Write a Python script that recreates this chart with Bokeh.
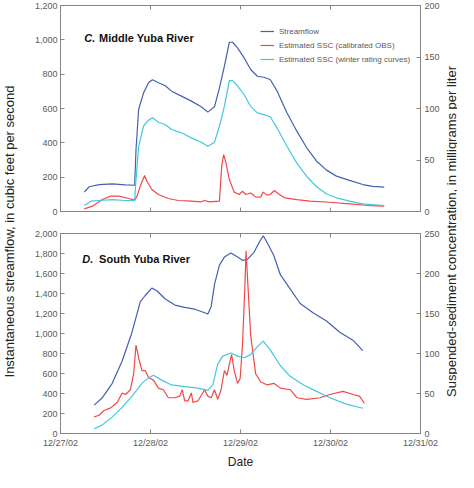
import math
from bokeh.plotting import figure
from bokeh.models import (Range1d, LinearAxis, FixedTicker, NumeralTickFormatter,
                          Label, Legend, LegendItem)
from bokeh.layouts import row, column
from bokeh.embed import file_html
from bokeh.resources import INLINE

# ---------------- data (time in days after 12/27/02 00:00) ----------------
DATE_TICKS = [0, 1, 2, 3, 4]
DATE_LABELS = ["12/27/02", "12/28/02", "12/29/02", "12/30/02", "12/31/02"]

# C. Middle Yuba River
MY_Q_T = [0.264, 0.319, 0.43, 0.575, 0.722, 0.824, 0.839, 0.868, 0.923, 0.978, 1.022,
          1.088, 1.161, 1.234, 1.344, 1.454, 1.564, 1.637, 1.711, 1.766, 1.821, 1.876,
          1.912, 1.967, 2.04, 2.113, 2.187, 2.26, 2.33, 2.407, 2.516, 2.626, 2.736,
          2.846, 2.956, 3.066, 3.212, 3.359, 3.469, 3.597]
MY_Q = [113, 144, 157, 161, 155, 153, 361, 594, 691, 750, 767, 750, 734, 701, 672, 643,
        610, 579, 610, 720, 847, 986, 986, 953, 895, 827, 788, 782, 769, 701, 575, 468,
        371, 293, 241, 206, 181, 157, 146, 142]
MY_RC_T = [0.264, 0.337, 0.43, 0.575, 0.722, 0.824, 0.839, 0.868, 0.923, 0.978, 1.022,
           1.088, 1.161, 1.234, 1.344, 1.454, 1.564, 1.637, 1.711, 1.766, 1.821, 1.876,
           1.912, 1.967, 2.04, 2.113, 2.187, 2.26, 2.33, 2.407, 2.516, 2.626, 2.736,
           2.846, 2.956, 3.066, 3.212, 3.359, 3.597]
MY_RC = [5.8, 10, 10.7, 11.6, 10.7, 10.7, 31, 63, 83, 88.7, 91, 86.7, 84.5, 79.6, 76.4,
         71.5, 67.3, 63.4, 67.3, 82.8, 102, 127, 127, 122, 113.6, 102, 95.8, 94, 92, 81,
         63.4, 47, 34, 24, 17, 13.3, 10, 7.4, 5.8]
MY_OBS_T = [0.264, 0.355, 0.465, 0.557, 0.648, 0.758, 0.824, 0.85, 0.886, 0.934, 0.96,
            1.015, 1.088, 1.198, 1.308, 1.454, 1.564, 1.6, 1.656, 1.766, 1.791, 1.813,
            1.839, 1.876, 1.93, 1.985, 2.022, 2.059, 2.113, 2.168, 2.223, 2.253, 2.297,
            2.33, 2.377, 2.42, 2.49, 2.626, 2.772, 2.99, 3.212, 3.432, 3.597]
MY_OBS = [2.6, 5.2, 11.6, 14.9, 14.9, 12.6, 11, 14.9, 24.6, 35, 29.4, 21.4, 16.5, 12.6,
          10.7, 10, 9.4, 10.7, 9.4, 10, 44, 55.3, 47, 31, 18.8, 16.5, 19.7, 16.5, 18,
          14.2, 13.9, 18.8, 15.9, 16.5, 20.4, 17.2, 13.3, 11.6, 10, 9, 7.4, 5.8, 5.2]

# D. South Yuba River
SY_Q_T = [0.374, 0.465, 0.575, 0.685, 0.795, 0.886, 0.941, 1.015, 1.07, 1.161, 1.271,
          1.381, 1.491, 1.564, 1.637, 1.674, 1.711, 1.766, 1.821, 1.894, 1.967, 2.022,
          2.077, 2.15, 2.205, 2.253, 2.297, 2.37, 2.443, 2.553, 2.663, 2.81, 2.956,
          3.103, 3.249, 3.359]
SY_Q = [284, 358, 502, 725, 1013, 1316, 1380, 1454, 1428, 1348, 1284, 1262, 1243, 1220,
        1195, 1268, 1492, 1684, 1764, 1805, 1764, 1732, 1741, 1812, 1907, 1978, 1907,
        1780, 1588, 1444, 1300, 1205, 1125, 1013, 933, 828]
SY_RC_T = [0.374, 0.465, 0.575, 0.685, 0.795, 0.905, 0.978, 1.033, 1.125, 1.234, 1.381,
           1.527, 1.637, 1.692, 1.747, 1.802, 1.894, 1.967, 2.04, 2.113, 2.187, 2.253,
           2.33, 2.443, 2.553, 2.7, 2.846, 2.993, 3.176, 3.359]
SY_RC = [6, 10.8, 20.8, 32.7, 46.7, 62.7, 69.5, 72.7, 66.7, 60.7, 58.7, 56.7, 53.9,
         60.7, 86.7, 96.7, 100.6, 96.7, 94.7, 98.6, 108.6, 115.4, 104.6, 84.7, 71.5,
         60.7, 52.7, 44.7, 36.7, 31.6]
SY_OBS_T = [0.374, 0.429, 0.484, 0.557, 0.63, 0.685, 0.722, 0.777, 0.813, 0.839, 0.868,
            0.905, 0.941, 0.978, 1.033, 1.088, 1.143, 1.198, 1.271, 1.326, 1.352, 1.381,
            1.418, 1.454, 1.472, 1.527, 1.6, 1.637, 1.674, 1.711, 1.747, 1.784, 1.821,
            1.85, 1.876, 1.901, 1.93, 1.967, 1.996, 2.022, 2.048, 2.062, 2.084, 2.113,
            2.168, 2.223, 2.297, 2.37, 2.443, 2.553, 2.626, 2.736, 2.883, 2.993, 3.139,
            3.249, 3.322, 3.377]
SY_OBS = [20.8, 22.8, 28.8, 32, 38.7, 50.7, 48.7, 54.7, 74.7, 110.6, 94.7, 78.7, 78.7,
          69.9, 66.7, 56.7, 54.7, 44.7, 44.7, 46.7, 54.7, 40.7, 40.7, 50.7, 38.7, 40.7,
          54.7, 46.7, 44.7, 54.7, 42.7, 54.7, 78.7, 72.7, 86.7, 98.6, 78.7, 62.7, 68.7,
          110.6, 182, 228.5, 182, 122.6, 74.7, 64.7, 60.7, 62.7, 56.7, 54.7, 44.7, 42.7,
          44.7, 48.7, 52.7, 48.7, 46.7, 37.5]

SERIES_NAMES = ["Streamflow", "Estimated SSC (calibrated OBS)",
                "Estimated SSC (winter rating curves)"]

# ---------------- style ----------------
BLUE = "#4262b0"
RED = "#f04848"
CYAN = "#42c8de"
GRAY = "#858585"
TICK_TXT = "#5a5a5a"
SANS = "Liberation Sans"


def style_axis(ax, show_labels=True):
    ax.axis_line_color = GRAY
    ax.axis_line_width = 1
    ax.major_tick_line_color = GRAY
    ax.major_tick_in = 4
    ax.major_tick_out = 0
    ax.minor_tick_line_color = None
    ax.major_label_text_font = SANS
    ax.major_label_text_color = TICK_TXT
    if show_labels:
        ax.major_label_text_font_size = "9px"
        ax.major_label_standoff = 3
    else:
        ax.major_label_text_font_size = "1px"
        ax.major_label_standoff = 0


def make_panel(frame_h, border_top, border_bottom, ymax_q, q_step, ymax_s,
               show_dates):
    p = figure(width=420, height=border_top + frame_h + border_bottom,
               x_range=Range1d(0, 4),
               y_range=Range1d(0, ymax_q), output_backend="svg",
               toolbar_location=None, x_axis_location=None, y_axis_location=None,
               min_border_left=36, min_border_right=24,
               min_border_top=border_top, min_border_bottom=border_bottom)
    p.extra_y_ranges = {"ssc": Range1d(0, ymax_s)}
    p.outline_line_color = GRAY
    p.grid.grid_line_color = None
    p.background_fill_color = "white"
    p.border_fill_color = "white"

    xb = LinearAxis(ticker=FixedTicker(ticks=DATE_TICKS))
    style_axis(xb, show_dates)
    if show_dates:
        xb.major_label_overrides = {t: l for t, l in zip(DATE_TICKS, DATE_LABELS)}
        xb.major_label_standoff = 4
        xb.axis_label = "Date"
        xb.axis_label_text_font = SANS
        xb.axis_label_text_font_style = "normal"
        xb.axis_label_text_font_size = "12px"
        xb.axis_label_text_color = "#222222"
        xb.axis_label_standoff = 4
    else:
        xb.major_label_overrides = {t: "" for t in DATE_TICKS}
    p.add_layout(xb, "below")
    xa = LinearAxis(ticker=FixedTicker(ticks=DATE_TICKS))
    style_axis(xa, False)
    xa.major_label_overrides = {t: "" for t in DATE_TICKS}
    p.add_layout(xa, "above")

    yl = LinearAxis(ticker=FixedTicker(ticks=list(range(0, ymax_q + 1, q_step))),
                    formatter=NumeralTickFormatter(format="0,0"))
    style_axis(yl)
    p.add_layout(yl, "left")
    yr = LinearAxis(y_range_name="ssc",
                    ticker=FixedTicker(ticks=list(range(0, ymax_s + 1, 50))))
    style_axis(yr)
    yr.major_label_standoff = 4
    p.add_layout(yr, "right")
    return p


# ---------------- top panel ----------------
p1 = make_panel(206, 5, 9, 1200, 200, 200, False)
r1 = p1.line(MY_Q_T, MY_Q, color=BLUE, line_width=1.2)
r2 = p1.line(MY_OBS_T, MY_OBS, color=RED, line_width=1.2, y_range_name="ssc")
r3 = p1.line(MY_RC_T, MY_RC, color=CYAN, line_width=1.2, y_range_name="ssc")
p1.add_layout(Label(x=0.264, y=973, text="C.", text_font=SANS,
                    text_font_style="bold italic", text_font_size="11px",
                    text_color="#111111"))
p1.add_layout(Label(x=0.429, y=973, text="Middle Yuba River", text_font=SANS,
                    text_font_style="bold", text_font_size="11px",
                    text_color="#111111"))
leg = Legend(items=[LegendItem(label=SERIES_NAMES[0], renderers=[r1]),
                    LegendItem(label=SERIES_NAMES[1], renderers=[r2]),
                    LegendItem(label=SERIES_NAMES[2], renderers=[r3])],
             location=(200, 146), orientation="vertical",
             border_line_color=None, background_fill_alpha=0,
             padding=0, margin=0, spacing=2, glyph_width=14, glyph_height=12,
             label_height=12, label_standoff=5,
             label_text_font=SANS, label_text_font_size="8px",
             label_text_color="#5a5a5a")
p1.add_layout(leg, "center")

# ---------------- bottom panel ----------------
p2 = make_panel(208, 13, 30, 2000, 200, 250, True)
p2.line(SY_Q_T, SY_Q, color=BLUE, line_width=1.2)
p2.line(SY_OBS_T, SY_OBS, color=RED, line_width=1.2, y_range_name="ssc")
p2.line(SY_RC_T, SY_RC, color=CYAN, line_width=1.2, y_range_name="ssc")
p2.add_layout(Label(x=0.242, y=1684, text="D.", text_font=SANS,
                    text_font_style="bold italic", text_font_size="11px",
                    text_color="#111111"))
p2.add_layout(Label(x=0.429, y=1684, text="South Yuba River", text_font=SANS,
                    text_font_style="bold", text_font_size="11px",
                    text_color="#111111"))

# ---------------- side titles ----------------
TOTAL_H = 471


def title_fig(width, xpos, text):
    f = figure(width=width, height=TOTAL_H, x_range=Range1d(0, width),
               y_range=Range1d(0, TOTAL_H), output_backend="svg",
               toolbar_location=None, x_axis_location=None, y_axis_location=None,
               min_border=0)
    f.outline_line_color = None
    f.grid.grid_line_color = None
    f.add_layout(Label(x=xpos, y=TOTAL_H - 231, text=text, angle=math.pi / 2,
                       text_align="center", text_baseline="middle",
                       text_font=SANS, text_font_size="13px",
                       text_color="#222222"))
    return f


lt = title_fig(24, 9, "Instantaneous streamflow, in cubic feet per second")
rt = title_fig(13, 6.5, "Suspended-sediment concentration, in milligrams per liter")

layout = row(lt, column(p1, p2, spacing=0), rt, spacing=0)

with open("out.html", "w") as fh:
    fh.write(file_html(layout, INLINE))
